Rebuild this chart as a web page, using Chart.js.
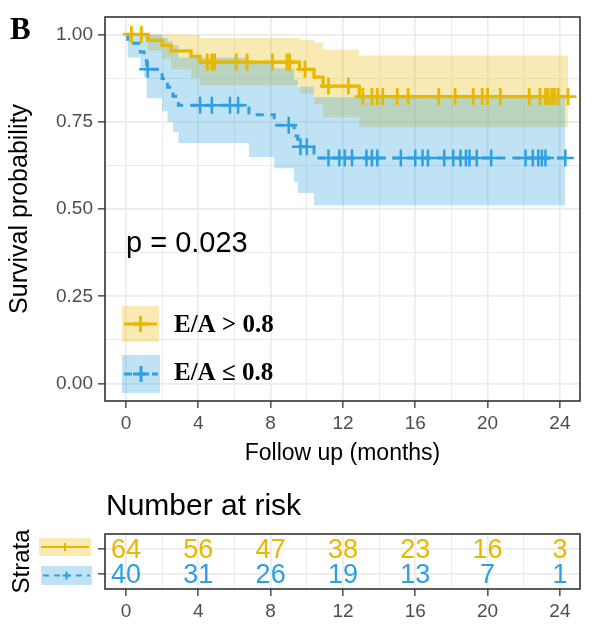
<!DOCTYPE html>
<html><head><meta charset="utf-8">
<script src="https://cdn.jsdelivr.net/npm/chart.js@4/dist/chart.umd.min.js"></script>
<style>
html,body{margin:0;padding:0;background:#fff;}
#wrap{position:relative;width:598px;height:626px;background:#fff;}
#c1{position:absolute;left:0;top:0;}
#c2{position:absolute;left:0;top:470px;}
</style></head><body>
<div id="wrap">
<canvas id="c1" width="598" height="470"></canvas>
<canvas id="c2" width="598" height="156"></canvas>
</div>
<script>
// ---------------- data ----------------
const groupNames = ['E/A > 0.8', 'E/A \u2264 0.8'];
const colors = ['#E7B800', '#2E9FDF'];
const panelTag = 'B';
const pText = 'p = 0.023';

// E/A > 0.8
const hiTime  = [0, 1.2, 2.0, 2.5, 3.6, 4.1, 9.6, 10.4, 10.9, 12.9, 24.45];
const hiSurv  = [1, 0.984, 0.969, 0.953, 0.937, 0.921, 0.900, 0.878, 0.852, 0.822, 0.822];
const hiUpper = [1, 1, 1, 1, 0.998, 0.99, 0.985, 0.977, 0.957, 0.94, 0.94];
const hiLower = [1, 0.953, 0.93, 0.90, 0.877, 0.854, 0.83, 0.80, 0.763, 0.734, 0.734];
const hiCensor = [0.3, 0.85, 4.5, 4.75, 4.9, 6.1, 6.7, 8.1, 8.9, 9.05, 9.9, 11.2, 12.3, 13.1, 13.6, 13.9, 14.2,
                  15.0, 15.6, 17.3, 18.2, 19.2, 19.7, 20.0, 20.7, 22.3, 22.9, 23.2, 23.35, 23.55, 23.7, 23.9, 24.45];

// E/A <= 0.8
const loTime  = [0, 0.1, 0.8, 1.0, 1.15, 2.0, 2.3, 2.6, 2.9, 6.8, 8.2, 9.3, 9.5, 10.4, 24.3];
const loSurv  = [1, 0.975, 0.95, 0.925, 0.90, 0.874, 0.849, 0.823, 0.797, 0.770, 0.740, 0.709, 0.678, 0.646, 0.646];
const loUpper = [1, 1, 1, 1, 1, 0.99, 0.98, 0.969, 0.934, 0.92, 0.903, 0.87, 0.85, 0.82, 0.82];
const loLower = [1, 0.934, 0.90, 0.877, 0.817, 0.78, 0.749, 0.72, 0.689, 0.649, 0.617, 0.577, 0.546, 0.511, 0.511];
const loCensor = [1.2, 4.1, 4.75, 5.75, 6.2, 9.0, 9.65, 10.0, 11.2, 11.8, 12.1, 12.5, 13.3, 13.6, 13.9, 15.2, 16.0,
                  16.4, 16.7, 17.6, 18.1, 18.5, 18.8, 19.0, 19.4, 20.2, 22.1, 22.5, 22.8, 23.0, 23.2, 24.3];

// number at risk
const riskTimes = [0, 4, 8, 12, 16, 20, 24];
const riskHi = [64, 56, 47, 38, 23, 16, 3];
const riskLo = [40, 31, 26, 19, 13, 7, 1];

// ticks
const xMajor = [0, 4, 8, 12, 16, 20, 24];
const xMinor = [2, 6, 10, 14, 18, 22];
const yMajor = [0, 0.25, 0.5, 0.75, 1];
const yMinor = [0.125, 0.375, 0.625, 0.875];
const yLabels = ['0.00', '0.25', '0.50', '0.75', '1.00'];

// ---------------- helpers ----------------
const SANS = "'Liberation Sans', Arial, Helvetica, sans-serif";
const SERIF = "'Liberation Serif', 'Times New Roman', serif";
function rgba(hex, a) {
  const n = parseInt(hex.slice(1), 16);
  return `rgba(${(n >> 16) & 255},${(n >> 8) & 255},${n & 255},${a})`;
}
function pts(ts, vs) { return ts.map((t, i) => ({x: t, y: vs[i]})); }
function survAt(ts, vs, t) { let v = vs[0]; for (let i = 0; i < ts.length; i++) { if (ts[i] <= t) v = vs[i]; } return v; }
const xAll = xMajor.concat(xMinor).sort((a, b) => a - b);
const yAll = yMajor.concat(yMinor).sort((a, b) => a - b);
const isMajorX = v => xMajor.includes(v);
const isMajorY = v => yMajor.includes(v);

function drawKey(ctx, x, y, w, h, color, dash, lw, cr) {
  ctx.save();
  ctx.fillStyle = rgba(color, 0.3);
  ctx.fillRect(x, y - h / 2, w, h);
  ctx.strokeStyle = color; ctx.lineWidth = lw;
  ctx.setLineDash(dash);
  ctx.beginPath(); ctx.moveTo(x + 2, y); ctx.lineTo(x + w - 2, y); ctx.stroke();
  ctx.setLineDash([]);
  const cx = x + w / 2;
  ctx.beginPath(); ctx.moveTo(cx, y - cr); ctx.lineTo(cx, y + cr);
  ctx.moveTo(cx - cr, y); ctx.lineTo(cx + cr, y); ctx.stroke();
  ctx.restore();
}

// ---------------- main survival chart ----------------
const decor = {
  id: 'decor',
  afterDraw(chart) {
    const ctx = chart.ctx, a = chart.chartArea, xs = chart.scales.x, ys = chart.scales.y;
    ctx.save();
    ctx.strokeStyle = '#333333'; ctx.lineWidth = 1.6;
    ctx.strokeRect(a.left, a.top, a.right - a.left, a.bottom - a.top);
    ctx.fillStyle = '#000'; ctx.textBaseline = 'middle'; ctx.textAlign = 'left';
    ctx.font = '29px ' + SANS;
    ctx.fillText(pText, xs.getPixelForValue(0), ys.getPixelForValue(0.4));
    ctx.font = 'bold 31px ' + SERIF;
    ctx.fillText(panelTag, 10, 31);
    // legend inside the panel
    drawKey(ctx, 122, 324, 37, 36, colors[0], [], 3, 8);
    drawKey(ctx, 122, 374, 38, 38, colors[1], [8, 6], 3, 8);
    ctx.fillStyle = '#000';
    ctx.font = 'bold 25px ' + SERIF;
    ctx.fillText(groupNames[0], 174, 326);
    ctx.fillText(groupNames[1], 174, 374);
    ctx.restore();
  }
};

const datasets = [
  {label: 'hiUpper', data: pts(hiTime, hiUpper), stepped: true, borderWidth: 0, borderColor: 'transparent',
   pointRadius: 0, fill: '+1', backgroundColor: rgba(colors[0], 0.3), order: 4},
  {label: 'hiLower', data: pts(hiTime, hiLower), stepped: true, borderWidth: 0, borderColor: 'transparent',
   pointRadius: 0, fill: false, order: 4},
  {label: 'loUpper', data: pts(loTime, loUpper), stepped: true, borderWidth: 0, borderColor: 'transparent',
   pointRadius: 0, fill: '+1', backgroundColor: rgba(colors[1], 0.3), order: 3},
  {label: 'loLower', data: pts(loTime, loLower), stepped: true, borderWidth: 0, borderColor: 'transparent',
   pointRadius: 0, fill: false, order: 3},
  {label: groupNames[0], data: pts(hiTime, hiSurv), stepped: true, borderColor: colors[0], borderWidth: 3.2,
   pointRadius: 0, fill: false, order: 1},
  {label: groupNames[1], data: pts(loTime, loSurv), stepped: true, borderColor: colors[1], borderWidth: 3,
   borderDash: [8, 7], pointRadius: 0, fill: false, order: 1},
  {label: 'hiCensor', data: hiCensor.map(t => ({x: t, y: survAt(hiTime, hiSurv, t)})), showLine: false,
   pointStyle: 'cross', pointRadius: 8.5, pointBorderWidth: 2.8, pointBorderColor: colors[0], borderColor: colors[0], fill: false, order: 0},
  {label: 'loCensor', data: loCensor.map(t => ({x: t, y: survAt(loTime, loSurv, t)})), showLine: false,
   pointStyle: 'cross', pointRadius: 8.5, pointBorderWidth: 2.5, pointBorderColor: colors[1], borderColor: colors[1], fill: false, order: 0}
];

new Chart(document.getElementById('c1'), {
  type: 'line',
  data: {datasets},
  plugins: [decor],
  options: {
    responsive: false, animation: false, events: [],
    layout: {padding: {top: 17, right: 18, left: 0, bottom: 0}},
    plugins: {legend: {display: false}, tooltip: {enabled: false}},
    scales: {
      x: {
        type: 'linear', min: -1.16, max: 25.11,
        afterBuildTicks: s => { s.ticks = xAll.map(v => ({value: v})); },
        afterFit: s => { s.height = 69; },
        ticks: {autoSkip: false, maxRotation: 0, padding: 4, color: '#4D4D4D', font: {family: SANS, size: 19},
                callback: v => isMajorX(v) ? String(v) : ''},
        grid: {color: '#EBEBEB', lineWidth: c => (c.tick && isMajorX(c.tick.value)) ? 1.7 : 1.0,
               tickColor: c => (c.tick && isMajorX(c.tick.value)) ? '#333333' : 'rgba(0,0,0,0)', tickLength: 7, tickWidth: 1.3},
        border: {display: false},
        title: {display: true, text: 'Follow up (months)', color: '#000', font: {family: SANS, size: 23}, padding: {top: 0, bottom: 3}}
      },
      y: {
        type: 'linear', min: -0.05, max: 1.05,
        afterBuildTicks: s => { s.ticks = yAll.map(v => ({value: v})); },
        afterFit: s => { s.width = 105; },
        ticks: {autoSkip: false, padding: 5, color: '#4D4D4D', font: {family: SANS, size: 19},
                callback: v => isMajorY(v) ? yLabels[yMajor.indexOf(v)] : ''},
        grid: {color: '#EBEBEB', lineWidth: c => (c.tick && isMajorY(c.tick.value)) ? 1.7 : 1.0,
               tickColor: c => (c.tick && isMajorY(c.tick.value)) ? '#333333' : 'rgba(0,0,0,0)', tickLength: 7, tickWidth: 1.3},
        border: {display: false},
        title: {display: true, text: 'Survival probability', color: '#000', font: {family: SANS, size: 25}, padding: {top: 5, bottom: 0}}
      }
    }
  }
});

// ---------------- number at risk table ----------------
const riskDecor = {
  id: 'riskDecor',
  afterDraw(chart) {
    const ctx = chart.ctx, a = chart.chartArea, xs = chart.scales.x, ys = chart.scales.y;
    ctx.save();
    ctx.textAlign = 'center'; ctx.textBaseline = 'middle';
    ctx.font = '27px ' + SANS;
    riskTimes.forEach((t, i) => {
      const x = xs.getPixelForValue(t);
      ctx.fillStyle = colors[0]; ctx.fillText(String(riskHi[i]), x, ys.getPixelForValue(2) + 2);
      ctx.fillStyle = colors[1]; ctx.fillText(String(riskLo[i]), x, ys.getPixelForValue(1) + 2);
    });
    ctx.strokeStyle = '#333333'; ctx.lineWidth = 1.6;
    ctx.strokeRect(a.left, a.top, a.right - a.left, a.bottom - a.top);
    ctx.fillStyle = '#000'; ctx.textAlign = 'left';
    ctx.font = '30px ' + SANS;
    ctx.fillText('Number at risk', 106, 37);
    drawKey(ctx, 39, ys.getPixelForValue(2) - 2, 52, 18, colors[0], [], 2, 4);
    drawKey(ctx, 41, ys.getPixelForValue(1) + 1.5, 51, 19, colors[1], [6, 5], 2, 4);
    ctx.restore();
  }
};

new Chart(document.getElementById('c2'), {
  type: 'line',
  data: {datasets: [
    {label: groupNames[0], data: riskTimes.map((t, i) => ({x: t, y: 2})), showLine: false, pointRadius: 0},
    {label: groupNames[1], data: riskTimes.map((t, i) => ({x: t, y: 1})), showLine: false, pointRadius: 0}
  ]},
  plugins: [riskDecor],
  options: {
    responsive: false, animation: false, events: [],
    layout: {padding: {top: 64, right: 18, left: 0, bottom: 0}},
    plugins: {legend: {display: false}, tooltip: {enabled: false}},
    scales: {
      x: {
        type: 'linear', min: -1.16, max: 25.11,
        afterBuildTicks: s => { s.ticks = xAll.map(v => ({value: v})); },
        afterFit: s => { s.height = 37; },
        ticks: {autoSkip: false, maxRotation: 0, padding: 4, color: '#4D4D4D', font: {family: SANS, size: 19},
                callback: v => isMajorX(v) ? String(v) : ''},
        grid: {color: '#EBEBEB', lineWidth: c => (c.tick && isMajorX(c.tick.value)) ? 1.7 : 1.0,
               tickColor: c => (c.tick && isMajorX(c.tick.value)) ? '#333333' : 'rgba(0,0,0,0)', tickLength: 7, tickWidth: 1.3},
        border: {display: false}
      },
      y: {
        type: 'linear', min: 0.4, max: 2.6,
        afterBuildTicks: s => { s.ticks = [1, 2].map(v => ({value: v})); },
        afterFit: s => { s.width = 105; },
        ticks: {autoSkip: false, padding: 5, callback: () => ''},
        grid: {color: '#EBEBEB', lineWidth: 1.7, tickColor: '#333333', tickLength: 7, tickWidth: 1.3},
        border: {display: false},
        title: {display: true, text: 'Strata', color: '#000', font: {family: SANS, size: 24}, padding: {top: 8, bottom: 0}}
      }
    }
  }
});
</script>
</body></html>
